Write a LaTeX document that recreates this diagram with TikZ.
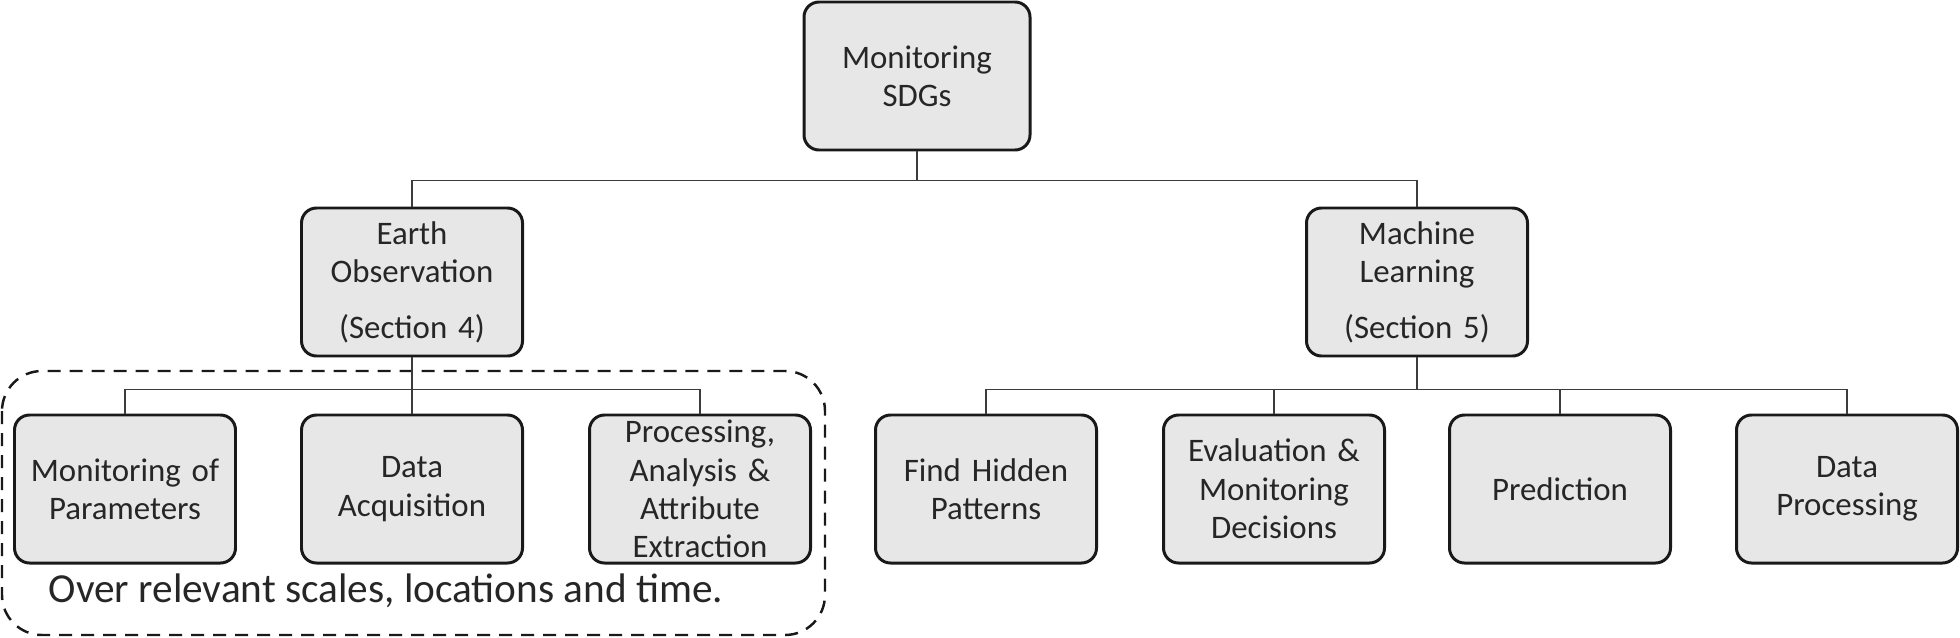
\documentclass[tikz,border=0pt]{standalone}
\usepackage{fontspec}
\setmainfont{Carlito}
\usepackage{tikz}
\usetikzlibrary{arrows.meta, positioning, calc}
\usepackage{xcolor}
\definecolor{boxfill}{RGB}{231,231,231}
\definecolor{boxline}{RGB}{25,25,25}
\definecolor{linkgray}{RGB}{60,60,60}
\definecolor{textgray}{RGB}{38,38,38}

\tikzset{
    topicbox/.style={draw=boxline, fill=boxfill, line width=1.7pt,
        rounded corners=0.3cm, minimum width=4.42cm, minimum height=2.96cm,
        inner sep=0pt, text width=4.3cm, align=center, text=textgray,
        font=\fontsize{18.7}{21.8}\selectfont},
    link/.style={draw=linkgray, line width=0.9pt},
    scopebox/.style={draw=boxline, line width=1.4pt, dash pattern=on 0.26cm off 0.18cm,
        rounded corners=0.8cm}
}

\begin{document}
\begin{tikzpicture}
    \useasboundingbox (0,0) rectangle (39.2,-12.76);

    \node[topicbox, minimum width=4.52cm] (sdg) at (18.34,-1.52) {Monitoring\\SDGs};
    \node[topicbox] (eo) at (8.24,-5.64)
      {Earth\\Observation\\[0.35cm](Section 4)};
    \node[topicbox] (ml) at (28.34,-5.64)
      {Machine\\Learning\\[0.35cm](Section 5)};

    \node[topicbox] (mop) at (2.5,-9.78) {Monitoring of\\Parameters};
    \node[topicbox] (da) at (8.24,-9.78) {Data\\Acquisition};
    \node[topicbox] (paae) at (14.0,-9.78)
      {Processing,\\Analysis \&\\Attribute\\Extraction};

    \node[topicbox] (fhp) at (19.72,-9.78) {Find Hidden\\Patterns};
    \node[topicbox] (emd) at (25.48,-9.78) {Evaluation \&\\Monitoring\\Decisions};
    \node[topicbox] (pred) at (31.2,-9.78) {Prediction};
    \node[topicbox] (dp) at (36.94,-9.78) {Data\\Processing};

    \draw[scopebox] (0.04,-7.42) rectangle (16.5,-12.7);
    \node[text=textgray, font=\fontsize{23.5}{26}\selectfont] (scale) at (7.72,-11.82)
      {Over relevant scales, locations and time.};

    \draw[link] (sdg.south) -- ++(0,-0.58) coordinate (sdghub);
    \draw[link] (eo.north) |- (sdghub) -| (ml.north);

    \draw[link] (eo.south) -- (da.north);
    \coordinate (eohub) at ($(eo.south)+(0,-0.64)$);
    \draw[link] (mop.north) |- (eohub) -| (paae.north);

    \draw[link] (ml.south) -- ++(0,-0.64) coordinate (mlhub);
    \draw[link] (fhp.north) |- (mlhub) -| (dp.north);
    \draw[link] (emd.north) -- (emd.north |- mlhub);
    \draw[link] (pred.north) -- (pred.north |- mlhub);
\end{tikzpicture}
\end{document}
